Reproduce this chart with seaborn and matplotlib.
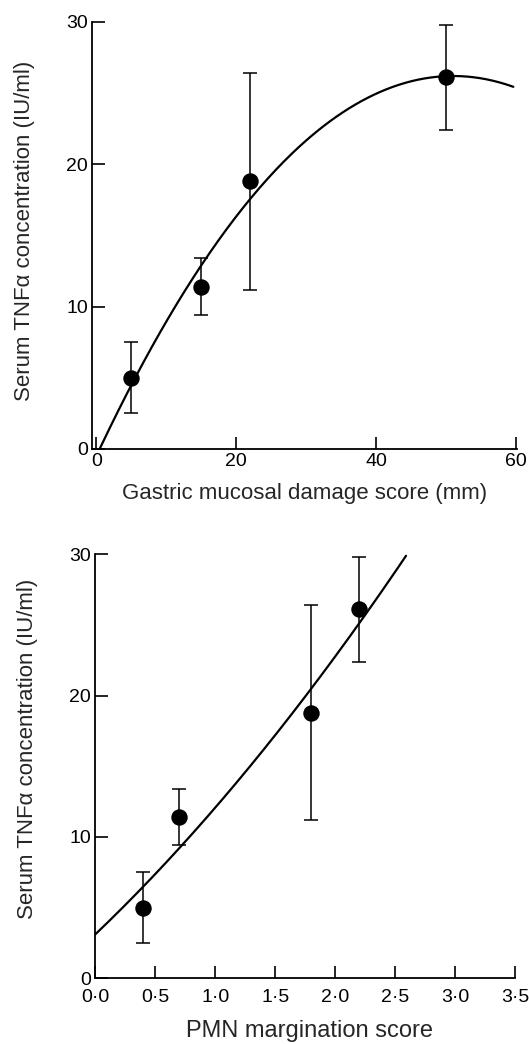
import matplotlib
matplotlib.use('Agg')
import matplotlib.pyplot as plt
import seaborn as sns
import pandas as pd
import numpy as np

# Mean serum TNF-alpha (IU/ml) with error bars, shared by both panels
tnf_mean = [5.0, 11.4, 18.8, 26.1]
tnf_err = [2.5, 2.0, 7.6, 3.7]

# Panel 1: gastric mucosal damage score (mm)
damage_score = [5, 15, 22, 50]
# fitted quadratic: y = c0 + c1*x + c2*x^2
damage_fit = [-0.51, 1.0475, -0.01027]
damage_fit_range = [0.5, 59.6]

# Panel 2: PMN margination score
pmn_score = [0.4, 0.7, 1.8, 2.2]
pmn_fit = [3.1, 8.11, 0.864]
pmn_fit_range = [0.0, 2.59]

y_ticks = [0, 10, 20, 30]
damage_ticks = [0, 20, 40, 60]
pmn_ticks = [0.0, 0.5, 1.0, 1.5, 2.0, 2.5, 3.0, 3.5]
pmn_ticklabels = ['0·0', '0·5', '1·0', '1·5', '2·0', '2·5', '3·0', '3·5']

sns.set_style('ticks')
plt.rcParams['font.family'] = ['Liberation Sans', 'DejaVu Sans']


def fit_curve(coefs, xrange):
    xs = np.linspace(xrange[0], xrange[1], 200)
    ys = coefs[0] + coefs[1] * xs + coefs[2] * xs ** 2
    return pd.DataFrame({'x': xs, 'y': ys})


def draw_panel(ax, xvals, coefs, xrange):
    pts = pd.DataFrame({'x': xvals, 'y': tnf_mean, 'err': tnf_err})
    curve = fit_curve(coefs, xrange)
    sns.lineplot(data=curve, x='x', y='y', ax=ax, color='black', linewidth=1.6)
    ax.errorbar(pts['x'], pts['y'], yerr=pts['err'], fmt='none',
                ecolor='black', elinewidth=1.1, capsize=5, capthick=1.1)
    sns.scatterplot(data=pts, x='x', y='y', ax=ax, color='black', s=140,
                    edgecolor='black', linewidth=0, zorder=5)
    ax.set_ylim(0, 30)
    ax.set_yticks(y_ticks)
    sns.despine(ax=ax)
    for side in ['left', 'bottom']:
        ax.spines[side].set_linewidth(1.3)
        ax.spines[side].set_color('black')
    ax.tick_params(direction='in', length=9, width=1.2, labelsize=14, colors='black', pad=3)
    ax.set_ylabel('Serum TNFα concentration (IU/ml)', fontsize=16)


fig = plt.figure(figsize=(5.29, 10.44), dpi=100, facecolor='white')

ax1 = fig.add_axes([0.174, 0.570, 0.803, 0.409])
draw_panel(ax1, damage_score, damage_fit, damage_fit_range)
ax1.set_xlim(-0.6, 60.1)
ax1.set_xticks(damage_ticks)
ax1.set_xlabel('Gastric mucosal damage score (mm)', fontsize=16)
ax1.yaxis.set_label_coords(-0.135, 0.51)
ax1.xaxis.set_label_coords(0.50, -0.08)

ax2 = fig.add_axes([0.180, 0.063, 0.794, 0.406])
draw_panel(ax2, pmn_score, pmn_fit, pmn_fit_range)
ax2.set_xlim(0, 3.5)
ax2.set_xticks(pmn_ticks)
ax2.set_xticklabels(pmn_ticklabels)
ax2.tick_params(axis='x', pad=8)
ax2.set_xlabel('PMN margination score', fontsize=17)
ax2.yaxis.set_label_coords(-0.137, 0.54)
ax2.xaxis.set_label_coords(0.51, -0.098)

fig.savefig('out.png', dpi=100, facecolor='white')
